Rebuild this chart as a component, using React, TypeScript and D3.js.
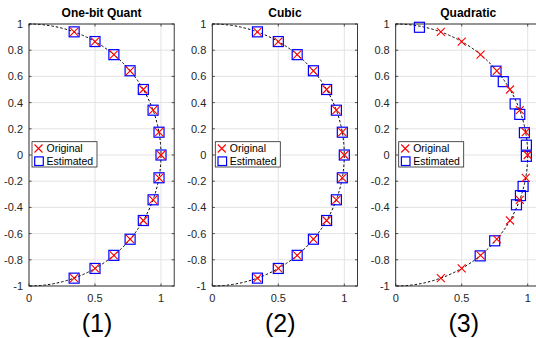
import React from "react";
import * as d3 from "d3";

const titles = ["One-bit Quant", "Cubic", "Quadratic"];
const captions = ["(1)", "(2)", "(3)"];

// original points on the unit circle
const origX = [0.342, 0.5, 0.643, 0.766, 0.866, 0.94, 0.985, 1.0, 0.985, 0.94, 0.866, 0.766, 0.643, 0.5, 0.342];
const origY = [0.94, 0.866, 0.766, 0.643, 0.5, 0.342, 0.174, 0, -0.174, -0.342, -0.5, -0.643, -0.766, -0.866, -0.94];

const oneBitX = [0.342, 0.5, 0.643, 0.766, 0.866, 0.94, 0.985, 1.0, 0.985, 0.94, 0.866, 0.766, 0.643, 0.5, 0.342];
const oneBitY = [0.94, 0.866, 0.766, 0.643, 0.5, 0.342, 0.174, 0, -0.174, -0.342, -0.5, -0.643, -0.766, -0.866, -0.94];

const cubicX = [0.342, 0.5, 0.643, 0.766, 0.866, 0.94, 0.985, 1.0, 0.985, 0.94, 0.866, 0.766, 0.643, 0.5, 0.342];
const cubicY = [0.94, 0.866, 0.766, 0.643, 0.5, 0.342, 0.174, 0, -0.174, -0.342, -0.5, -0.643, -0.766, -0.866, -0.94];

const quadX = [0.18, 0.76, 0.815, 0.905, 0.94, 0.975, 0.99, 0.99, 0.965, 0.945, 0.915, 0.75, 0.64];
const quadY = [0.975, 0.64, 0.56, 0.39, 0.31, 0.17, 0.075, -0.01, -0.24, -0.31, -0.38, -0.655, -0.77];

const estX = [oneBitX, cubicX, quadX];
const estY = [oneBitY, cubicY, quadY];

const xTicks = [0, 0.5, 1];
const yTicks = [-1, -0.8, -0.6, -0.4, -0.2, 0, 0.2, 0.4, 0.6, 0.8, 1];

const panelLeft = [29, 212.3, 395.7];
const top = 24;
const W = 145.2;
const H = 262;
const axisColor = "#262626";
const font = "'Liberation Sans', Arial, sans-serif";

const x = d3.scaleLinear().domain([0, 1.1]).range([0, W]);
const y = d3.scaleLinear().domain([-1, 1]).range([H, 0]);

const fmt = (v: number) => (v === 0 ? "0" : String(v));

function Cross({ cx, cy, s = 4 }: { cx: number; cy: number; s?: number }) {
  return (
    <path
      d={`M${cx - s},${cy - s}L${cx + s},${cy + s}M${cx - s},${cy + s}L${cx + s},${cy - s}`}
      stroke="#ff0000"
      strokeWidth={1.1}
      fill="none"
    />
  );
}

function Square({ cx, cy, s = 5 }: { cx: number; cy: number; s?: number }) {
  return <rect x={cx - s} y={cy - s} width={2 * s} height={2 * s} fill="none" stroke="#0000ff" strokeWidth={1.2} />;
}

function Panel({ i }: { i: number }) {
  const rx = x(1) - x(0);
  const ry = y(0) - y(1);
  const arcPath = `M${x(0)},${y(1)}A${rx},${ry} 0 0 1 ${x(0)},${y(-1)}`;
  const ex = estX[i];
  const ey = estY[i];
  return (
    <g transform={`translate(${panelLeft[i]},${top})`}>
      <rect x={0} y={0} width={W} height={H} fill="#fff" />
      {xTicks.map((t) => (
        <line key={"gx" + t} x1={x(t)} x2={x(t)} y1={0} y2={H} stroke="#e3e3e3" strokeWidth={1} />
      ))}
      {yTicks.map((t) => (
        <line key={"gy" + t} x1={0} x2={W} y1={y(t)} y2={y(t)} stroke="#e3e3e3" strokeWidth={1} />
      ))}
      <path d={arcPath} fill="none" stroke="#000" strokeWidth={1} strokeDasharray="2.5,2" />
      {ex.map((v, k) => (
        <Square key={"s" + k} cx={x(v)} cy={y(ey[k])} />
      ))}
      {origX.map((v, k) => (
        <Cross key={"c" + k} cx={x(v)} cy={y(origY[k])} />
      ))}
      <rect x={0} y={0} width={W} height={H} fill="none" stroke={axisColor} strokeWidth={0.9} />
      {xTicks.map((t) => (
        <g key={"tx" + t}>
          <line x1={x(t)} x2={x(t)} y1={H} y2={H - 2.5} stroke={axisColor} strokeWidth={0.8} />
          <line x1={x(t)} x2={x(t)} y1={0} y2={2.5} stroke={axisColor} strokeWidth={0.8} />
          <text x={x(t)} y={H + 16} textAnchor="middle" fontSize={11} fontFamily={font} fill={axisColor}>
            {fmt(t)}
          </text>
        </g>
      ))}
      {yTicks.map((t) => (
        <g key={"ty" + t}>
          <line x1={0} x2={2.5} y1={y(t)} y2={y(t)} stroke={axisColor} strokeWidth={0.8} />
          <line x1={W} x2={W - 2.5} y1={y(t)} y2={y(t)} stroke={axisColor} strokeWidth={0.8} />
          <text x={-6} y={y(t) + 4} textAnchor="end" fontSize={11} fontFamily={font} fill={axisColor}>
            {fmt(t)}
          </text>
        </g>
      ))}
      <text x={W / 2} y={-7} textAnchor="middle" fontSize={12} fontWeight="bold" fontFamily={font} fill="#000">
        {titles[i]}
      </text>
      <g transform="translate(3,117.7)">
        <rect x={0} y={0} width={65} height={25.3} fill="#fff" stroke={axisColor} strokeWidth={0.8} />
        <Cross cx={6.5} cy={6.8} />
        <text x={14.5} y={10.6} fontSize={10.5} fontFamily={font} fill="#000">
          Original
        </text>
        <Square cx={7} cy={19.5} s={4.3} />
        <text x={14.5} y={23.3} fontSize={10.5} fontFamily={font} fill="#000">
          Estimated
        </text>
      </g>
      <text x={68} y={308} textAnchor="middle" fontSize={25} fontFamily={font} fill="#000">
        {captions[i]}
      </text>
    </g>
  );
}

export default function App() {
  return (
    <svg
      width={536}
      height={338}
      style={{ position: "absolute", left: 0, top: 0, background: "#fff" }}
    >
      {titles.map((_, i) => (
        <Panel key={i} i={i} />
      ))}
    </svg>
  );
}
